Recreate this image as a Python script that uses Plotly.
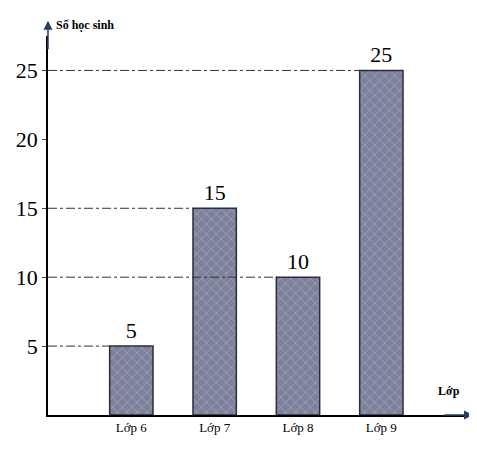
import plotly.graph_objects as go

classes = ["Lớp 6", "Lớp 7", "Lớp 8", "Lớp 9"]
students = [5, 15, 10, 25]
y_ticks = [5, 10, 15, 20, 25]

fig = go.Figure(
    go.Bar(
        x=list(range(len(classes))),
        y=students,
        width=0.52,
        text=[str(v) for v in students],
        textposition="outside",
        textfont=dict(size=22, color="black", family="Liberation Serif"),
        marker=dict(
            color="#7d819c",
            line=dict(color="#2a2d3a", width=1.5),
            pattern=dict(shape="x", fgcolor="#b9bccb", size=7, solidity=0.25),
        ),
        cliponaxis=False,
    )
)

# dash-dot guide lines from the axis to each bar
shapes = []
for i, v in enumerate(students):
    shapes.append(dict(type="line", xref="x", yref="y", x0=-1, x1=i - 0.26, y0=v, y1=v,
                       line=dict(color="#333", width=1, dash="dashdot")))

fig.update_layout(
    width=477, height=450,
    margin=dict(l=40, r=12, t=28, b=43),
    plot_bgcolor="white", paper_bgcolor="white",
    showlegend=False,
    shapes=shapes,
    xaxis=dict(range=[-1, 4.1], tickvals=list(range(len(classes))), ticktext=classes,
               showgrid=False, zeroline=False, showline=True, linecolor="black", linewidth=1.5,
               tickfont=dict(size=13, family="Liberation Serif", color="black"), ticks="",
               automargin=False),
    yaxis=dict(range=[0, 27.5], tickvals=y_ticks, showgrid=False, zeroline=False,
               showline=True, linecolor="black", linewidth=1.5, ticks="outside", ticklen=4,
               tickfont=dict(size=22, family="Liberation Serif", color="black"),
               automargin=False),
    annotations=[
        dict(xref="paper", yref="paper", x=0, y=1.0, text="<b>Số học sinh</b>", showarrow=False,
             xanchor="left", yanchor="bottom", xshift=6, yshift=2,
             font=dict(size=12, family="Liberation Serif", color="black")),
        dict(xref="paper", yref="paper", x=0.975, y=0.04, text="<b>Lớp</b>", showarrow=False,
             xanchor="right", yanchor="bottom",
             font=dict(size=12, family="Liberation Serif", color="black")),
        dict(xref="paper", yref="paper", x=0, y=1.04, ax=0, ay=30, text="", showarrow=True,
             arrowhead=2, arrowsize=1.2, arrowwidth=1.5),
        dict(xref="paper", yref="paper", x=1.0, y=0, ax=-30, ay=0, text="", showarrow=True,
             arrowhead=2, arrowsize=1.2, arrowwidth=1.5),
    ],
)

fig.write_html("out.html")
